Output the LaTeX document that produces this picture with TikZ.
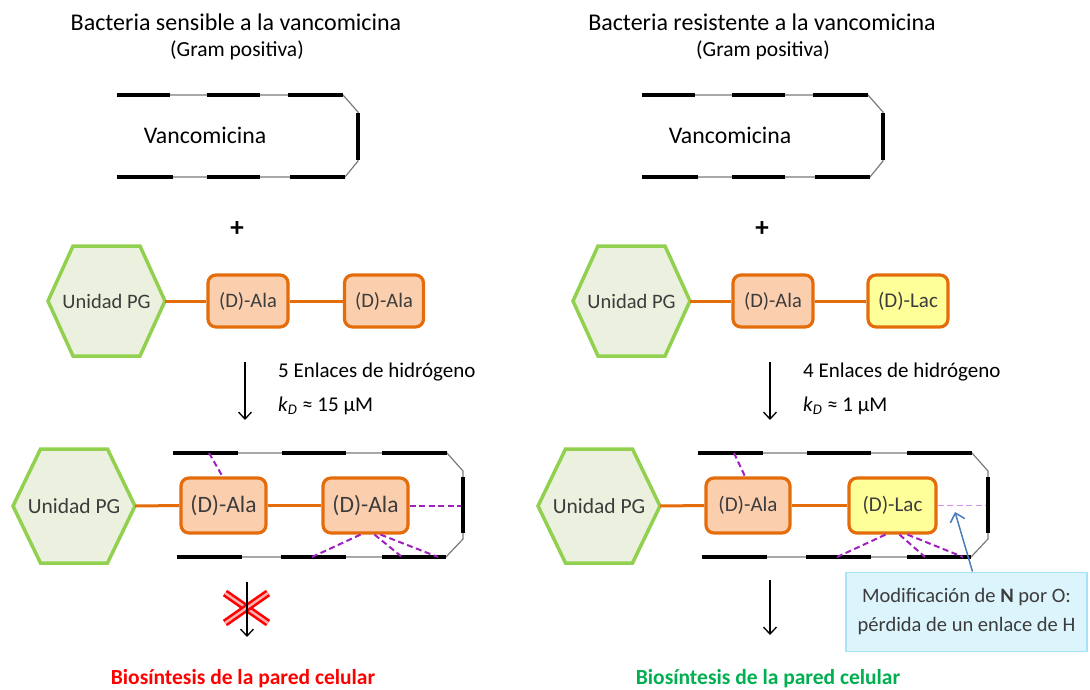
\documentclass[tikz,border=0pt]{standalone}
\usepackage{fontspec}
\setmainfont{Carlito}
\usetikzlibrary{arrows.meta}
\definecolor{hexfill}{HTML}{EBF1DE}
\definecolor{hexdraw}{HTML}{92D050}
\definecolor{orng}{HTML}{E46C0A}
\definecolor{peach}{HTML}{FBCFAE}
\definecolor{lyell}{HTML}{FFFF99}
\definecolor{purp}{HTML}{A020C0}
\definecolor{lpurp}{HTML}{D98CEE}
\definecolor{blu}{HTML}{4A7EBB}
\definecolor{annfill}{HTML}{DCF4FC}
\definecolor{anndraw}{HTML}{A8E2F4}
\definecolor{frgray}{HTML}{7A7A7A}
\definecolor{txt}{HTML}{3C3C3C}
\definecolor{redlab}{HTML}{FF0000}
\definecolor{grnlab}{HTML}{00B050}
\newcommand{\fsz}[2]{\fontsize{#1}{#2}\selectfont}
\newcommand{\hexagon}[6]{%
  \draw[hexshape] ({#2-#4},#3) -- ({#2-#5},{#3-#6}) -- ({#2+#5},{#3-#6}) -- ({#2+#4},#3) -- ({#2+#5},{#3+#6}) -- ({#2-#5},{#3+#6}) -- cycle;
  \coordinate (#1-r) at ({#2+#4},#3);
}
\tikzset{
  title/.style={font=\fsz{24}{28}, text=black, inner sep=0},
  sub/.style={font=\fsz{21.5}{25}, text=black, inner sep=0},
  vanc/.style={font=\fsz{23.8}{28}, text=black, inner sep=0},
  frameline/.style={draw=frgray, line width=1.2pt},
  seg/.style={draw=black, line width=4.5pt},
  hexshape/.style={draw=hexdraw, fill=hexfill, line width=3.5pt},
  hextext/.style={text=txt, inner sep=0},
  pepbox/.style={draw=orng, line width=3.2pt, rounded corners=8pt, text=txt, inner sep=0},
  ala/.style={pepbox, fill=peach},
  lac/.style={pepbox, fill=lyell},
  bond/.style={draw=orng, line width=3pt},
  hb/.style={draw=purp, line width=2pt, dash pattern=on 6pt off 3.5pt},
  hblost/.style={draw=lpurp, line width=1.6pt, dash pattern=on 6pt off 3.5pt},
  down/.style={draw=black, line width=1.3pt, -{Straight Barb[length=7pt,width=13pt]}},
  info/.style={anchor=west, font=\fsz{21}{25}, text=black, inner sep=0},
  xmark/.style={draw=red, line width=2.6pt, double=red!30!white, double distance=2.4pt},
  annot/.style={draw=anndraw, fill=annfill, line width=1.8pt, minimum width=241pt, minimum height=79pt, align=center, font=\fsz{20.5}{29}, text=txt},
  bluearrow/.style={draw=blu, line width=1.5pt, -{Straight Barb[length=8pt,width=15pt]}},
  result/.style={font=\bfseries\fsz{21.5}{25}, inner sep=0},
}
\begin{document}
\begin{tikzpicture}[x=1pt,y=-1pt]
\useasboundingbox (0,0) rectangle (1090,689);
\fill[white] (0,0) rectangle (1090,689);

% ---------- titles ----------
\node[title] (tL) at (236,22) {Bacteria sensible a la vancomicina};
\node[sub] (sL) at (237,50) {(Gram positiva)};
\node[title] (tR) at (762,22) {Bacteria resistente a la vancomicina};
\node[sub] (sR) at (763,50) {(Gram positiva)};

% ---------- vancomycin (top) ----------
\foreach \s/\n in {0/L,525/R}{
  \begin{scope}[xshift=\s pt]
    \draw[frameline] (117,95) -- (343,95) -- (358,112) -- (358,161) -- (345,177) -- (117,177);
    \foreach \a/\b in {117/170,207/260,288/343} \draw[seg] (\a,95) -- (\b,95);
    \foreach \a/\b in {117/173,207/260,290/345} \draw[seg] (\a,177) -- (\b,177);
    \draw[seg] (358,113) -- (358,160);
    \node[vanc] (v\n) at (205,135) {Vancomicina};
    \node[font=\bfseries\fsz{27}{30}, inner sep=0] (plus\n) at (237,229) {+};
  \end{scope}
}

% ---------- row 2 left ----------
\hexagon{hL2}{106.5}{301}{58.5}{33.5}{55}
\node[hextext, font=\fsz{20.5}{24}] (pgL2) at (106.5,301) {Unidad PG};
\node[ala, minimum width=80pt, minimum height=52pt, font=\fsz{20.5}{24}] (aL2) at (248,301) {(D)-Ala};
\node[ala, minimum width=79pt, minimum height=52pt, font=\fsz{20.5}{24}] (bL2) at (384,301) {(D)-Ala};
\draw[bond] (hL2-r) -- (aL2.west);
\draw[bond] (aL2.east) -- (bL2.west);

% ---------- row 2 right ----------
\hexagon{hR2}{631.5}{301}{58.5}{33.5}{55}
\node[hextext, font=\fsz{20.5}{24}] (pgR2) at (631.5,301) {Unidad PG};
\node[ala, minimum width=80pt, minimum height=52pt, font=\fsz{20.5}{24}] (aR2) at (773,301) {(D)-Ala};
\node[lac, minimum width=80pt, minimum height=52pt, font=\fsz{21}{24}] (cR2) at (908,301) {(D)-Lac};
\draw[bond] (hR2-r) -- (aR2.west);
\draw[bond] (aR2.east) -- (cR2.west);

% ---------- arrows and binding data ----------
\coordinate (dL1) at (245,362); \coordinate (dL2) at (245,420);
\coordinate (dR1) at (770,362); \coordinate (dR2) at (770,420);
\draw[down] (dL1) -- (dL2);
\draw[down] (dR1) -- (dR2);
\node[info] (hbL) at (278,372) {5 Enlaces de hidrógeno};
\node[info] (kdL) at (278,406) {\textit{k}\textsubscript{\textit{D}} ≈ 15 µM};
\node[info] (hbR) at (803,372) {4 Enlaces de hidrógeno};
\node[info] (kdR) at (803,406) {\textit{k}\textsubscript{\textit{D}} ≈ 1 µM};

% ---------- row 3 frames ----------
\foreach \s in {0,525}{
  \begin{scope}[xshift=\s pt]
    \draw[frameline] (173,453) -- (447,453) -- (463,471) -- (463,539) -- (446,557) -- (177,557);
    \foreach \a/\b in {173/238,282/346,382/447} \draw[seg] (\a,453) -- (\b,453);
    \foreach \a/\b in {177/242,281/346,382/446} \draw[seg] (\a,557) -- (\b,557);
    \draw[seg] (463,477) -- (463,533);
  \end{scope}
}

% ---------- row 3 left ----------
\hexagon{hL3}{74}{506}{61}{33.5}{57}
\node[hextext, font=\fsz{21.5}{25}] (pgL3) at (74,506) {Unidad PG};
\node[ala, minimum width=85pt, minimum height=55pt, font=\fsz{23.5}{27}] (aL3) at (223.5,505.5) {(D)-Ala};
\node[ala, minimum width=85pt, minimum height=55pt, font=\fsz{23.5}{27}] (bL3) at (365.5,505.5) {(D)-Ala};
\draw[bond] (hL3-r) -- (aL3.west);
\draw[bond] (aL3.east) -- (bL3.west);
\coordinate (tL3a) at (209,453);
\coordinate (rL3) at (461,505.5);
\coordinate (bL3a) at (312,557);
\coordinate (bL3b) at (402,557);
\coordinate (bL3c) at (438,557);
\draw[hb] (tL3a) -- ([xshift=-1pt]aL3.north);
\draw[hb] (bL3.east) -- (rL3);
\draw[hb] ([xshift=-5pt]bL3.south) -- (bL3a);
\draw[hb] ([xshift=9pt]bL3.south) -- (bL3b);
\draw[hb] ([xshift=15pt]bL3.south) -- (bL3c);

% ---------- row 3 right ----------
\hexagon{hR3}{599}{506}{61}{33.5}{57}
\node[hextext, font=\fsz{21.5}{25}] (pgR3) at (599,506) {Unidad PG};
\node[ala, minimum width=84pt, minimum height=55pt, font=\fsz{21}{25}] (aR3) at (748,505.5) {(D)-Ala};
\node[lac, minimum width=87pt, minimum height=55pt, font=\fsz{21}{25}] (cR3) at (892.5,505.5) {(D)-Lac};
\draw[bond] (hR3-r) -- (aR3.west);
\draw[bond] (aR3.east) -- (cR3.west);
\coordinate (tR3a) at (734,453);
\coordinate (rR3) at (986,505.5);
\coordinate (bR3a) at (837,557);
\coordinate (bR3b) at (925,557);
\coordinate (bR3c) at (963,557);
\draw[hb] (tR3a) -- ([xshift=-3pt]aR3.north);
\draw[hblost] (cR3.east) -- (rR3);
\draw[hb] ([xshift=-7pt]cR3.south) -- (bR3a);
\draw[hb] ([xshift=7pt]cR3.south) -- (bR3b);
\draw[hb] ([xshift=15pt]cR3.south) -- (bR3c);

% ---------- annotation ----------
\node[annot] (ann) at (966.5,612) {Modificación de \textbf{N} por O:\\pérdida de un enlace de H};
\coordinate (modtip) at (955,512);
\draw[bluearrow] ([xshift=6pt]ann.north) -- (modtip);

% ---------- bottom arrows ----------
\coordinate (eL1) at (247,582); \coordinate (eL2) at (247,637);
\coordinate (eR1) at (770,580); \coordinate (eR2) at (770,635);
\coordinate (xa) at (225,593); \coordinate (xb) at (268,623);
\coordinate (xc) at (268,593); \coordinate (xd) at (225,623);
\draw[xmark] (xa) -- (xb);
\draw[xmark] (xc) -- (xd);
\draw[down] (eL1) -- (eL2);
\draw[down] (eR1) -- (eR2);

% ---------- results ----------
\node[result, text=redlab] (resL) at (243,679) {Biosíntesis de la pared celular};
\node[result, text=grnlab] (resR) at (768,679) {Biosíntesis de la pared celular};
\end{tikzpicture}
\end{document}
